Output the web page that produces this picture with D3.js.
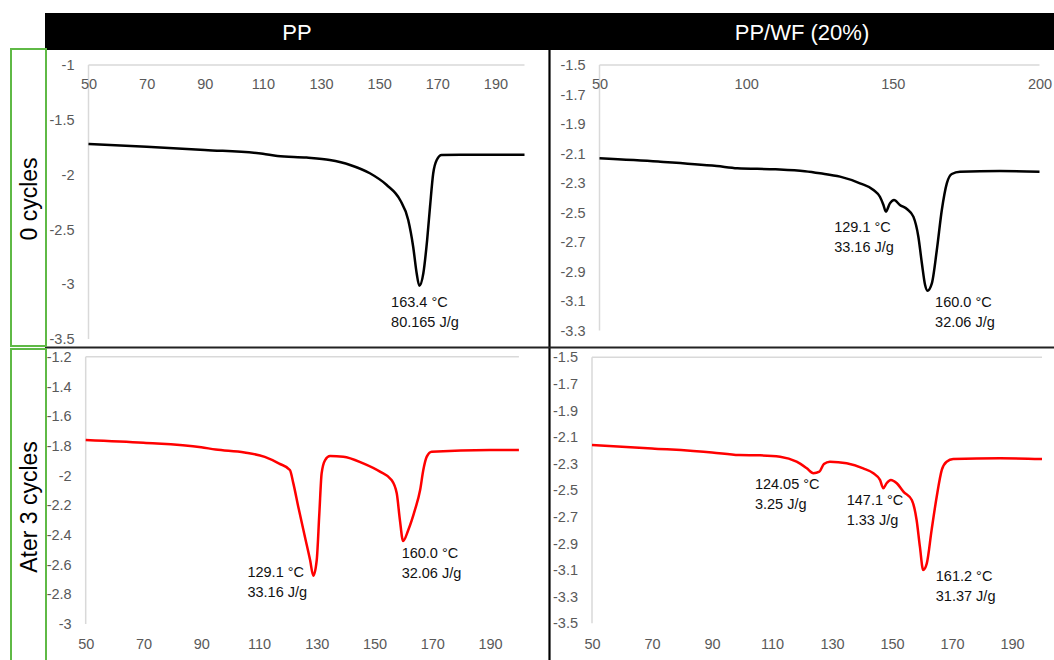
<!DOCTYPE html>
<html>
<head>
<meta charset="utf-8">
<script src="https://cdn.jsdelivr.net/npm/d3@7"></script>
<style>
  body { margin: 0; background: #fff; }
  svg { display: block; font-family: "Liberation Sans", Arial, sans-serif; }
  .tick text { fill: #595959; font-size: 14.5px; }
  .note { fill: #111; font-size: 14.5px; }
</style>
</head>
<body>
<div id="chart"></div>
<script>
// Headers
const colTitles = ['PP', 'PP/WF (20%)'];
const rowTitles = ['0 cycles', 'Ater 3 cycles'];

// PP, 0 cycles  (temperature in °C, heat flow)
const pp0Temp = [50, 70, 90, 110, 115, 125, 133, 140, 146.8, 152.6, 157.2, 160, 161.7, 162.9, 163.8, 165.2, 166.5, 167.5, 168.6, 169.8, 171.5, 178, 190, 200];
const pp0Flow = [-1.72, -1.745, -1.775, -1.81, -1.83, -1.845, -1.867, -1.912, -1.988, -2.095, -2.232, -2.414, -2.658, -2.9, -3.014, -2.9, -2.597, -2.293, -1.988, -1.867, -1.821, -1.82, -1.82, -1.82];

// PP/WF (20%), 0 cycles
const ppWf0Temp = [50, 70, 90, 97, 110, 120, 125.2, 132, 138.8, 143.4, 145.6, 146.8, 147.6, 149, 150.4, 152.4, 154.9, 157, 158.7, 159.9, 161, 161.8, 163.3, 165, 166.7, 168.4, 170.1, 172.9, 186.5, 200];
const ppWf0Flow = [-2.133, -2.155, -2.185, -2.2, -2.207, -2.22, -2.234, -2.257, -2.302, -2.347, -2.393, -2.449, -2.494, -2.438, -2.415, -2.449, -2.478, -2.528, -2.664, -2.844, -2.992, -3.03, -2.98, -2.754, -2.483, -2.302, -2.239, -2.223, -2.219, -2.223];

// PP, after 3 cycles
const pp3Temp = [50, 70, 90, 95, 105, 112, 117, 120.7, 121.9, 123.6, 125.9, 127.7, 128.8, 130, 130.9, 131.7, 132.9, 134.6, 139.2, 146.1, 151.9, 155.9, 157.7, 158.8, 159.9, 161.7, 164, 165.8, 166.9, 168.1, 169.8, 190, 200];
const pp3Flow = [-1.761, -1.78, -1.81, -1.825, -1.845, -1.875, -1.92, -1.963, -2.053, -2.21, -2.412, -2.569, -2.675, -2.569, -2.255, -1.985, -1.896, -1.869, -1.873, -1.918, -1.974, -2.03, -2.12, -2.3, -2.441, -2.367, -2.232, -2.098, -1.963, -1.873, -1.84, -1.828, -1.828];

// PP/WF (20%), after 3 cycles
const ppWf3Temp = [50, 70, 90, 99, 106, 112.7, 118.2, 121.6, 123.8, 125.8, 127.3, 129.3, 134.9, 140.4, 143.8, 146, 147.1, 148.2, 149.6, 151.6, 153.8, 156.6, 158.2, 159.3, 160.4, 161.6, 163.2, 164.9, 166.6, 168.2, 170.4, 186, 200];
const ppWf3Flow = [-2.159, -2.185, -2.215, -2.235, -2.237, -2.247, -2.285, -2.335, -2.372, -2.36, -2.302, -2.285, -2.297, -2.335, -2.372, -2.422, -2.485, -2.447, -2.422, -2.447, -2.51, -2.573, -2.723, -2.924, -3.099, -3.049, -2.799, -2.548, -2.347, -2.285, -2.265, -2.259, -2.265];

// Tick values
const xTicksA = [50, 70, 90, 110, 130, 150, 170, 190];
const xTicksB = [50, 100, 150, 200];
const yTicksPp0 = [-1, -1.5, -2, -2.5, -3, -3.5];
const yTicksWf0 = [-1.5, -1.7, -1.9, -2.1, -2.3, -2.5, -2.7, -2.9, -3.1, -3.3];
const yTicksPp3 = [-1.2, -1.4, -1.6, -1.8, -2, -2.2, -2.4, -2.6, -2.8, -3];
const yTicksWf3 = [-1.5, -1.7, -1.9, -2.1, -2.3, -2.5, -2.7, -2.9, -3.1, -3.3, -3.5];

// Peak annotations: temp / flow where the text starts
const pp0Notes = [{t: 154.1, v: -3.16, lines: ['163.4 °C', '80.165 J/g']}];
const ppWf0Notes = [
  {t: 130.0, v: -2.596, lines: ['129.1 °C', '33.16 J/g']},
  {t: 164.4, v: -3.105, lines: ['160.0 °C', '32.06 J/g']}
];
const pp3Notes = [
  {t: 106.0, v: -2.65, lines: ['129.1 °C', '33.16 J/g']},
  {t: 159.4, v: -2.522, lines: ['160.0 °C', '32.06 J/g']}
];
const ppWf3Notes = [
  {t: 104.3, v: -2.453, lines: ['124.05 °C', '3.25 J/g']},
  {t: 134.9, v: -2.573, lines: ['147.1 °C', '1.33 J/g']},
  {t: 164.6, v: -3.144, lines: ['161.2 °C', '31.37 J/g']}
];

const width = 1054, height = 660;

const svg = d3.select('#chart').append('svg')
  .attr('width', width)
  .attr('height', height);

// Panel set up (pixel frame of each plot area)
const panels = [
  {temp: pp0Temp, flow: pp0Flow, color: '#000', notes: pp0Notes, xTicks: xTicksA, yTicks: yTicksPp0,
   xDomain: [50, 200], yDomain: [-3.5, -1], xRange: [88.5, 524.5], yRange: [339, 65], axisTop: true},
  {temp: ppWf0Temp, flow: ppWf0Flow, color: '#000', notes: ppWf0Notes, xTicks: xTicksB, yTicks: yTicksWf0,
   xDomain: [50, 200], yDomain: [-3.3, -1.5], xRange: [599.5, 1039.5], yRange: [330.5, 65], axisTop: true},
  {temp: pp3Temp, flow: pp3Flow, color: '#ff0000', notes: pp3Notes, xTicks: xTicksA, yTicks: yTicksPp3,
   xDomain: [50, 200], yDomain: [-3, -1.2], xRange: [85.7, 518.9], yRange: [624, 356.7], axisTop: false},
  {temp: ppWf3Temp, flow: ppWf3Flow, color: '#ff0000', notes: ppWf3Notes, xTicks: xTicksA, yTicks: yTicksWf3,
   xDomain: [50, 200], yDomain: [-3.5, -1.5], xRange: [592, 1042], yRange: [623.3, 357.3], axisTop: false}
];

panels.forEach(p => {
  const x = d3.scaleLinear().domain(p.xDomain).range(p.xRange);
  const y = d3.scaleLinear().domain(p.yDomain).range(p.yRange);
  const g = svg.append('g');

  // axis lines (light grey)
  g.append('line')
    .attr('x1', x(p.xDomain[0])).attr('x2', x(p.xDomain[1]))
    .attr('y1', y(p.yDomain[1])).attr('y2', y(p.yDomain[1]))
    .attr('stroke', '#d9d9d9').attr('stroke-width', 1.5);
  g.append('line')
    .attr('x1', x(p.xDomain[0])).attr('x2', x(p.xDomain[0]))
    .attr('y1', y(p.yDomain[1])).attr('y2', y(p.yDomain[0]))
    .attr('stroke', '#d9d9d9').attr('stroke-width', 1.5);

  const xAxis = d3.axisBottom(x)
    .tickValues(p.xTicks)
    .tickFormat(d => String(d))
    .tickSize(0)
    .tickPadding(p.axisTop ? 14 : 15);
  g.append('g')
    .attr('transform', `translate(0, ${p.axisTop ? y(p.yDomain[1]) : y(p.yDomain[0])})`)
    .call(xAxis)
    .call(a => a.select('.domain').remove())
    .selectAll('text').attr('font-family', null).attr('font-size', null);

  const yAxis = d3.axisLeft(y)
    .tickValues(p.yTicks)
    .tickFormat(d => String(d))
    .tickSize(0)
    .tickPadding(14);
  g.append('g')
    .attr('transform', `translate(${x(p.xDomain[0])}, 0)`)
    .call(yAxis)
    .call(a => a.select('.domain').remove())
    .selectAll('text').attr('font-family', null).attr('font-size', null);

  const line = d3.line()
    .x((d, i) => x(p.temp[i]))
    .y(d => y(d))
    .curve(d3.curveMonotoneX);

  g.append('path')
    .attr('d', line(p.flow))
    .attr('fill', 'none')
    .attr('stroke', p.color)
    .attr('stroke-width', 2.5)
    .attr('stroke-linejoin', 'round');

  p.notes.forEach(n => {
    const t = g.append('text')
      .attr('class', 'note')
      .attr('x', x(n.t))
      .attr('y', y(n.v));
    n.lines.forEach((s, i) => {
      t.append('tspan')
        .attr('x', x(n.t))
        .attr('dy', i === 0 ? '0.35em' : 20)
        .text(s);
    });
  });
});

// Frame: header bar, dividers and row label boxes
svg.append('rect')
  .attr('x', 45).attr('y', 13).attr('width', width - 45).attr('height', 37)
  .attr('fill', '#000');

const colCenters = [297, 802];
colTitles.forEach((c, i) => {
  svg.append('text')
    .attr('x', colCenters[i]).attr('y', 32).attr('dy', '0.35em')
    .attr('text-anchor', 'middle')
    .attr('fill', '#fff')
    .attr('font-size', 22)
    .text(c);
});

svg.append('line')
  .attr('x1', 549.5).attr('x2', 549.5).attr('y1', 50).attr('y2', height)
  .attr('stroke', '#000').attr('stroke-width', 2.2);
svg.append('line')
  .attr('x1', 45).attr('x2', width).attr('y1', 347.5).attr('y2', 347.5)
  .attr('stroke', '#222').attr('stroke-width', 2);

const rowBoxes = [[49, 346], [349, 680]];
rowBoxes.forEach(b => {
  svg.append('rect')
    .attr('x', 11).attr('y', b[0]).attr('width', 35).attr('height', b[1] - b[0])
    .attr('fill', 'none')
    .attr('stroke', '#5fb946').attr('stroke-width', 2);
});

const rowCenters = [199, 507];
rowTitles.forEach((r, i) => {
  svg.append('text')
    .attr('transform', `translate(29, ${rowCenters[i]}) rotate(-90)`)
    .attr('dy', '0.35em')
    .attr('text-anchor', 'middle')
    .attr('fill', '#000')
    .attr('font-size', 23)
    .text(r);
});
</script>
</body>
</html>
